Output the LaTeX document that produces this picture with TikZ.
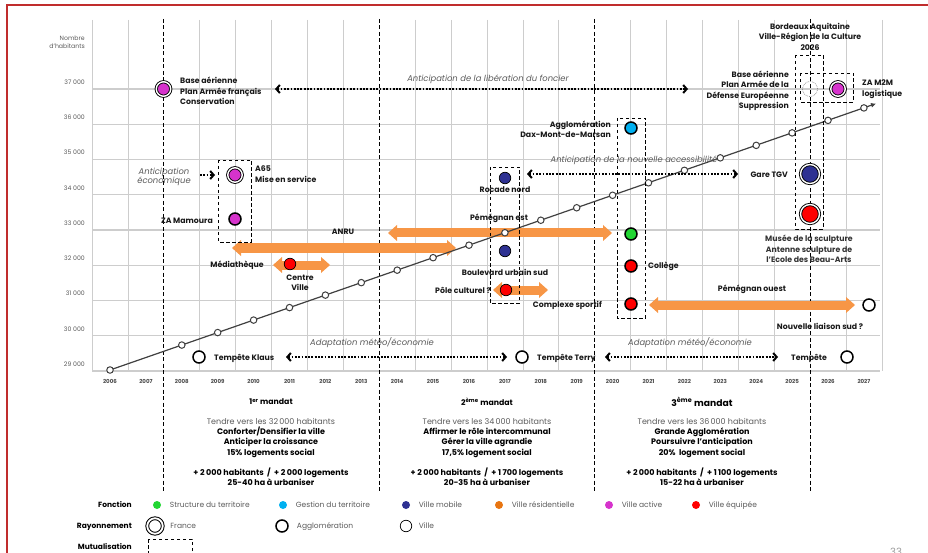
\documentclass[tikz,border=0pt]{standalone}
\usepackage{fontspec}
\setmainfont{Poppins}
\usetikzlibrary{arrows.meta,positioning}

\definecolor{cactive}{RGB}{214,51,204}
\definecolor{cgestion}{RGB}{0,176,240}
\definecolor{cmobile}{RGB}{46,49,146}
\definecolor{cstructure}{RGB}{34,214,51}
\definecolor{cequipee}{RGB}{255,0,0}
\definecolor{cresid}{RGB}{232,117,17}
\definecolor{cfleche}{RGB}{247,150,70}
\definecolor{cgrille}{RGB}{205,205,205}
\definecolor{ctexte}{RGB}{90,90,90}
\definecolor{ccadre}{RGB}{192,45,45}

\tikzset{
  cadre/.style={ccadre, line width=1.2pt},
  grillev/.style={cgrille, line width=0.6pt},
  grilleh/.style={cgrille, line width=1.2pt},
  mandat/.style={black, line width=0.9pt, dash pattern=on 4pt off 2.5pt},
  mutu/.style={black, line width=0.9pt, dash pattern=on 3.5pt off 2.5pt},
  popline/.style={black!75, line width=1.2pt, -{Latex[length=5pt,width=5pt]}},
  pt/.style={circle, inner sep=0pt, minimum size=6.5pt, draw=black!75, line width=1pt, fill=white},
  fleche/.style={cfleche, line width=9pt,
    {Triangle[length=9pt,width=16pt,line width=0pt]}-{Triangle[length=9pt,width=16pt,line width=0pt]}},
  pointille/.style={line width=2pt, dash pattern=on 1.8pt off 1.5pt,
    {Straight Barb[length=3.5pt,width=8pt]}-{Straight Barb[length=3.5pt,width=8pt]}},
  france/.style={circle, inner sep=0pt, minimum size=14.5pt, draw=black, line width=0.9pt,
    double=white, double distance=1.4pt},
  grand/.style={france, minimum size=19pt},
  agglo/.style={circle, inner sep=0pt, minimum size=12pt, draw=black, line width=1.5pt},
  ville/.style={circle, inner sep=0pt, minimum size=11.5pt, draw=black, line width=0.7pt},
  supprime/.style={circle, inner sep=0pt, minimum size=15pt, draw=black!50, line width=0.6pt,
    dash pattern=on 0.8pt off 1pt},
  lab/.style={font=\bfseries\fontsize{7.8}{10.5}\selectfont, inner sep=0pt, text=black!90},
  ital/.style={font=\itshape\fontsize{8.4}{9.5}\selectfont, inner sep=0pt, text=ctexte, align=center},
  axe/.style={font=\fontsize{6.2}{8}\selectfont, inner sep=0pt, text=ctexte, anchor=east, align=right},
  annee/.style={font=\bfseries\fontsize{5.5}{6}\selectfont, inner sep=0pt, text=black!70},
  titre/.style={font=\bfseries\fontsize{7.8}{9}\selectfont, inner sep=0pt},
  bloc/.style={font=\bfseries\fontsize{8}{10.3}\selectfont, inner sep=0pt, align=center},
  legtitre/.style={font=\bfseries\fontsize{7.5}{9}\selectfont, inner sep=0pt, anchor=east,
    text height=5.5pt, text depth=1.5pt},
  legtxt/.style={font=\fontsize{7.5}{9}\selectfont, inner sep=0pt, text=ctexte, anchor=west,
    text height=5.5pt, text depth=1.5pt},
  legdot/.style={circle, inner sep=0pt, minimum size=8pt}
}

\begin{document}
\begin{tikzpicture}[x=1pt, y=-1pt]
\useasboundingbox (0,0) rectangle (928,553);

% Cadre
\draw[cadre] (7,560) -- (7,5) -- (940,5);

% Grille
\foreach \k in {0,1,3,4,5,6,7,9,10,11,12,13,15,16,17,18,19,21,22}
  \draw[grillev] ({92.05+35.9*\k},20) -- ({92.05+35.9*\k},371);
\foreach \j in {0,...,8}
  \draw[grilleh] (92,{89+35.25*\j}) -- (880,{89+35.25*\j});

% Axe des habitants
\node[axe] (nb) at (85,42) {Nombre\\d'habitants};
\foreach \j in {0,...,8} {
  \pgfmathtruncatemacro{\v}{37-\j}
  \node[axe] at (85,{82+35.25*\j}) {\v\ 000};
}

% Annees
\foreach \a in {2006,...,2027}
  \node[annee] at ({110+35.9*(\a-2006)},381) {\a};

% Mandats
\foreach \a in {2007.5,2013.5,2019.5,2025.5}
  \draw[mandat] ({110+35.9*(\a-2006)},19) -- ({110+35.9*(\a-2006)},492);

% Fleches orange
\coordinate (est1) at (388,233);
\coordinate (est2) at (612,233);
\coordinate (anru1) at (232,248);
\coordinate (anru2) at (456,248);
\coordinate (med1) at (273,265);
\coordinate (med2) at (330,265);
\coordinate (pole1) at (493,290);
\coordinate (pole2) at (548,290);
\coordinate (ouest1) at (649,305);
\coordinate (ouest2) at (855,305);
\draw[fleche] (est1) -- (est2);
\draw[fleche] (anru1) -- (anru2);
\draw[fleche] (med1) -- (med2);
\draw[fleche] (pole1) -- (pole2);
\draw[fleche] (ouest1) -- (ouest2);

% Courbe de population
\coordinate (debut) at (110,370);
\coordinate (fin) at (876,103.6);
\draw[popline] (debut) -- (fin);
\foreach \a in {2006,2008,2009,...,2027}
  \node[pt] (p\a) at ({110+35.9*(\a-2006)},{370-12.48*(\a-2006)}) {};

% Fleches pointillees
\coordinate (fon1) at (275,89);
\coordinate (fon2) at (688,89);
\coordinate (acc1) at (527,174);
\coordinate (acc2) at (738,174);
\coordinate (eco1) at (200,175);
\coordinate (eco2) at (215,175);
\coordinate (tk1) at (286,357);
\coordinate (tk2) at (507,357);
\coordinate (tt1) at (605,357);
\coordinate (tt2) at (778,357);
\draw[pointille] (fon1) -- (fon2);
\draw[pointille] (acc1) -- (acc2);
\draw[pointille, -{Straight Barb[length=3.5pt,width=8pt]}] (eco1) -- (eco2);
\draw[pointille] (tk1) -- (tk2);
\draw[pointille] (tt1) -- (tt2);

% Mutualisation
\draw[mutu] (218,160) rectangle (251,242);
\draw[mutu] (490,167) rectangle (519,303);
\draw[mutu] (617,118) rectangle (645,318);
\draw[mutu] (795,55) rectangle (823,229);
\draw[mutu] (800,73) rectangle (853,102);

% Projets
\node[france, fill=cactive] (base1) at (163.5,89) {};
\node[lab, align=left, anchor=west] at (180,91) {Base aérienne\\Plan Armée français\\Conservation};

\node[supprime] (base2) at (810,89) {};
\node[lab, align=right, anchor=east] at (789,91) {Base aérienne\\Plan Armée de la\\Défense Européenne\\Suppression};
\node[france, fill=cactive] (m2m) at (838,89) {};
\node[lab, align=left, anchor=west] at (862,89) {ZA M2M\\logistique};
\node[lab, align=center] (bdx) at (810,36.5) {Bordeaux Aquitaine\\Ville-Région de la Culture\\2026};

\node[france, fill=cactive] (a65) at (235,175) {};
\node[lab, align=left, anchor=west] at (255,174) {A65\\Mise en service};
\node[agglo, fill=cactive] (mamoura) at (235,219) {};
\node[lab, anchor=east] at (213,221) {ZA Mamoura};
\node[ital] at (164,177) {Anticipation\\économique};

\node[ville, fill=cequipee] (centre) at (290,264) {};
\node[lab, anchor=east] at (264,265) {Médiathèque};
\node[lab, align=center] at (300,283) {Centre\\Ville};
\node[lab] at (343,232) {ANRU};

\node[ville, fill=cmobile] (rocade) at (505,178) {};
\node[lab] at (505,190) {Rocade nord};
\node[lab] at (499,218) {Pémégnan est};
\node[ville, fill=cmobile] (boulevard) at (505,251) {};
\node[lab] at (505,272) {Boulevard urbain sud};
\node[ville, fill=cequipee] (pole) at (506,290) {};
\node[lab, anchor=east] at (491,290) {Pôle culturel ?};

\node[agglo, fill=cgestion] (dax) at (631,128) {};
\node[lab, align=right, anchor=east] at (611,129.5) {Agglomération\\Dax-Mont-de-Marsan};
\node[agglo, fill=cstructure] (struct) at (631,234) {};
\node[agglo, fill=cequipee] (college) at (631,266) {};
\node[lab, anchor=west] at (648,266) {Collège};
\node[agglo, fill=cequipee] (complexe) at (631,304) {};
\node[lab, anchor=east] at (602,305) {Complexe sportif};

\node[grand, fill=cmobile] (tgv) at (810,174) {};
\node[lab, anchor=east] at (788,175) {Gare TGV};
\node[grand, fill=cequipee] (musee) at (810,214) {};
\node[lab, align=center, text=black!80] at (809,249) {Musée de la sculpture\\Antenne sculpture de\\l'Ecole des Beau-Arts};
\node[lab] at (752,289) {Pémégnan ouest};
\node[agglo, fill=white] (liaison) at (869,305) {};
\node[lab] at (820,326) {Nouvelle liaison sud ?};

\node[ital] at (488,79) {Anticipation de la libération du foncier};
\node[ital] at (634,160) {Anticipation de la nouvelle accessibilité};
\node[ital] at (372,343) {Adaptation météo/économie};
\node[ital] at (690,343) {Adaptation météo/économie};

% Tempetes
\node[agglo, fill=white] (klaus) at (199,357) {};
\node[lab, anchor=west] at (214,358) {Tempête Klaus};
\node[agglo, fill=white] (terry) at (522,357) {};
\node[lab, anchor=west] at (537,358) {Tempête Terry};
\node[agglo, fill=white] (tempete) at (847,357) {};
\node[lab, anchor=west] at (791,358) {Tempête};

% Textes des mandats
\node[titre] (m1) at (271,402) {1\textsuperscript{er} mandat};
\node[bloc, anchor=north] (b1) at (271,418) {{\mdseries\color{ctexte}Tendre vers les 32\,000 habitants}\\
  Conforter/Densifier la ville\\Anticiper la croissance\\15\% logements social\\[10pt]
  + 2\,000 habitants\ \ /\ \ + 2\,000 logements\\25-40 ha à urbaniser};
\node[titre] (m2) at (487,402) {2\textsuperscript{ème} mandat};
\node[bloc, anchor=north] (b2) at (487,418) {{\mdseries\color{ctexte}Tendre vers les 34\,000 habitants}\\
  Affirmer le rôle intercommunal\\Gérer la ville agrandie\\17,5\% logement social\\[10pt]
  + 2\,000 habitants\ \ /\ \ + 1\,700 logements\\20-35 ha à urbaniser};
\node[titre, font=\bfseries\fontsize{9.2}{10}\selectfont] (m3) at (702,402) {3\textsuperscript{ème} mandat};
\node[bloc, anchor=north] (b3) at (702,418) {{\mdseries\color{ctexte}Tendre vers les 36\,000 habitants}\\
  Grande Agglomération\\Poursuivre l'anticipation\\20\%\ \ logement social\\[10pt]
  + 2\,000 habitants\ \ /\ \ + 1\,100 logements\\15-22 ha à urbaniser};

% Legende
\node[legtitre] at (132,505) {Fonction};
\foreach \x/\c/\t in {157/cstructure/Structure du territoire, 283/cgestion/Gestion du territoire,
    406/cmobile/Ville mobile, 499/cresid/Ville résidentielle, 609/cactive/Ville active,
    696/cequipee/Ville équipée} {
  \node[legdot, fill=\c] (f\x) at (\x,505) {};
  \node[legtxt, right=8.5pt of f\x] {\t};
}
\node[legtitre] at (132,526) {Rayonnement};
\node[france, fill=white, minimum size=15.5pt, line width=1pt, double distance=1.8pt] (rfrance) at (155,526) {};
\node[legtxt, right=7pt of rfrance] {France};
\node[agglo, fill=white] (ragglo) at (282,526) {};
\node[legtxt, right=8pt of ragglo] {Agglomération};
\node[ville, fill=white] (rville) at (406,526) {};
\node[legtxt, right=6.5pt of rville] {Ville};
\node[legtitre] at (132,547) {Mutualisation};
\draw[mutu] (148,539) rectangle (192,562);

\node[font=\fontsize{10}{12}\selectfont, text=black!40, anchor=north west, inner sep=0pt] at (890,548) {33};
\end{tikzpicture}
\end{document}
